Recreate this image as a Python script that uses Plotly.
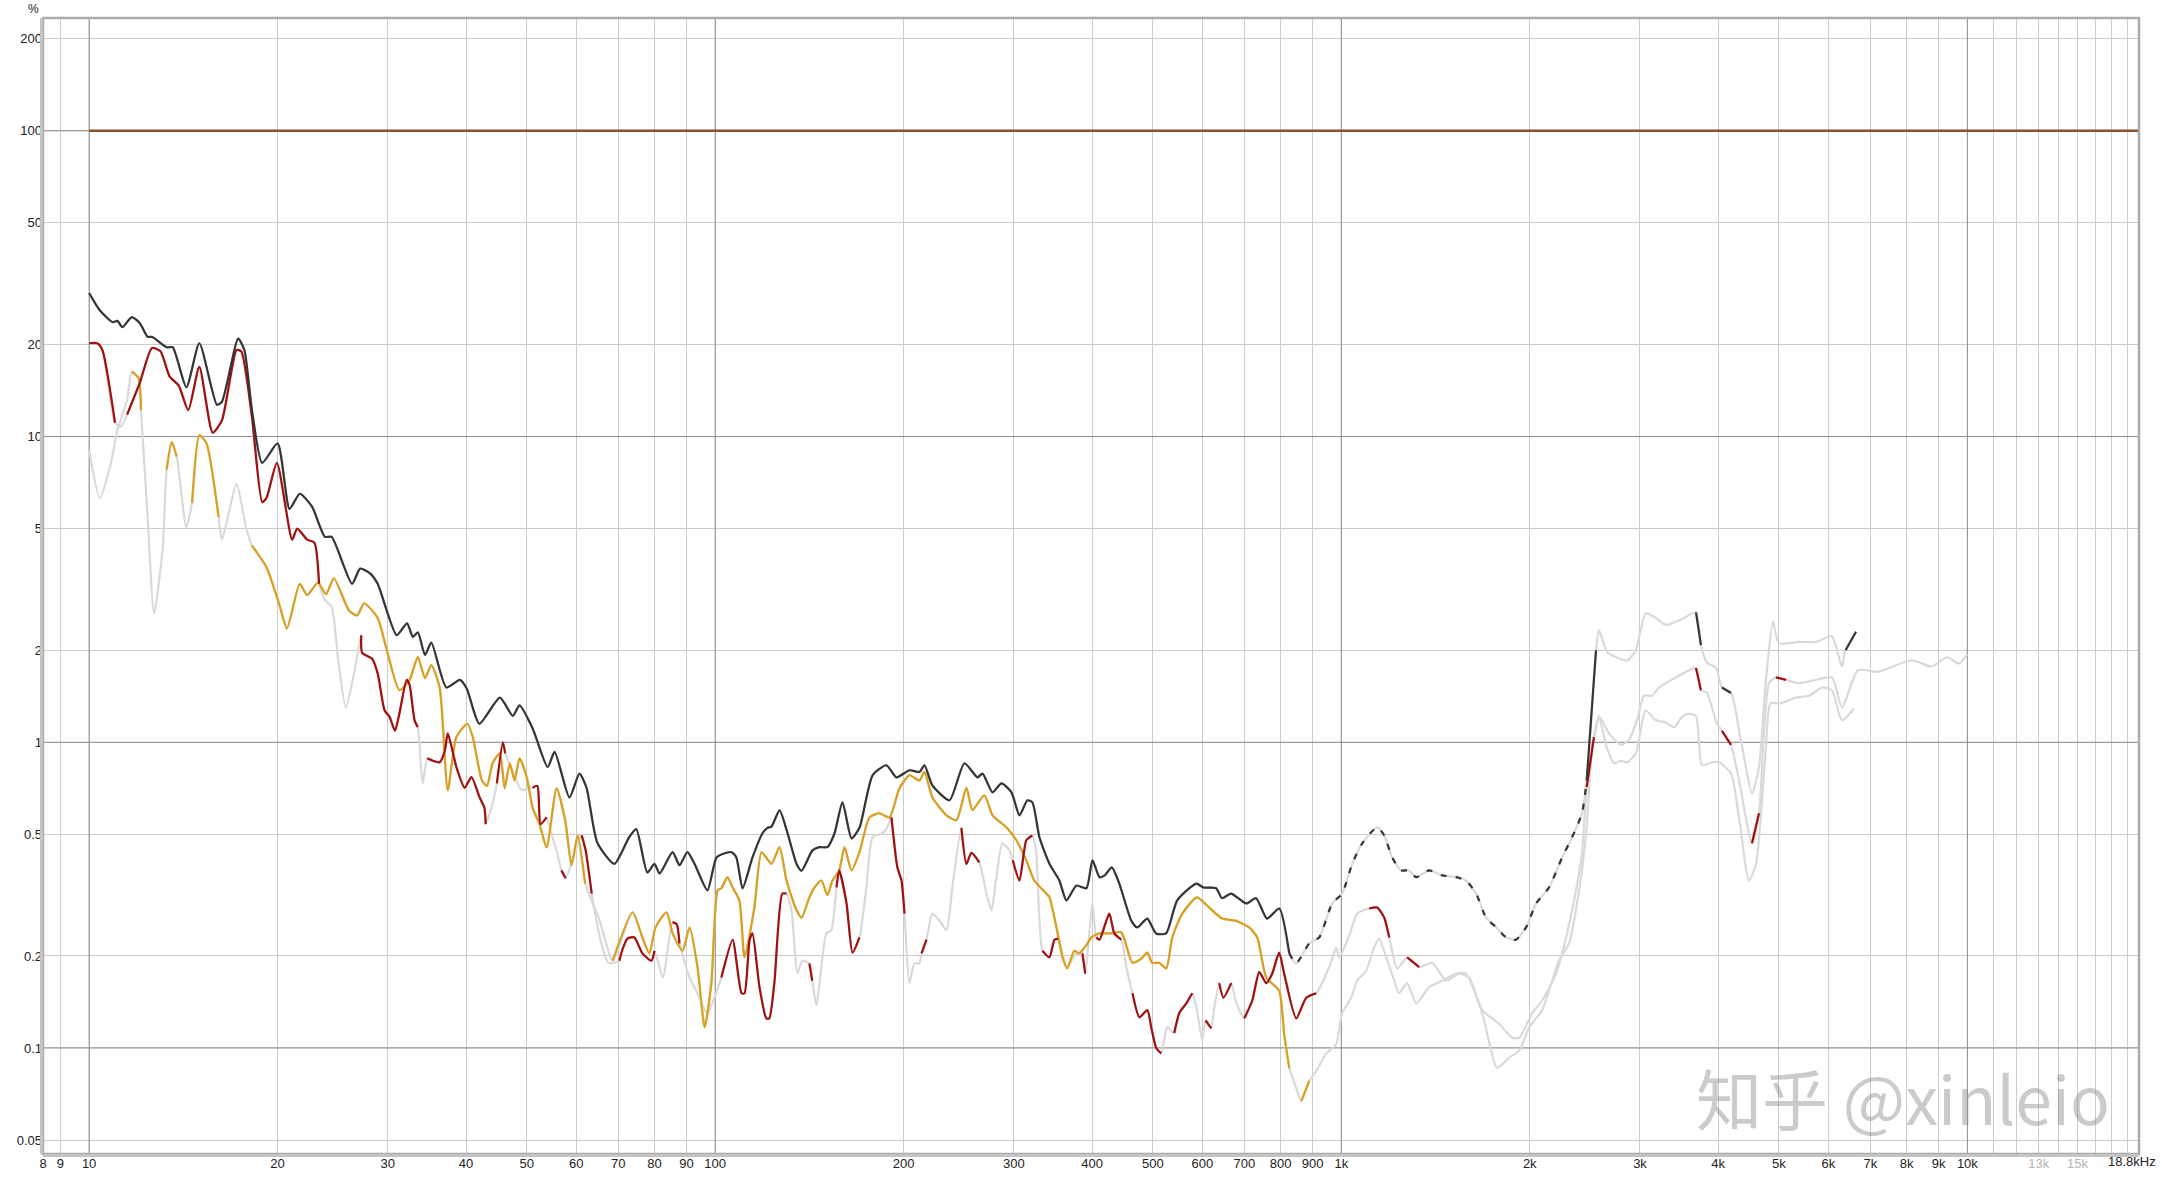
import math
import plotly.graph_objects as go

# ---------------- data (frequency in Hz, distortion in %) ----------------
THD_FREQ = [10.0, 10.4, 10.9, 11.1, 11.3, 11.7, 12.05, 12.4, 12.6, 13.3, 13.6, 14.3, 15.0, 16.0, 16.3,
            17.3, 17.7, 18.2, 18.9, 20.0, 20.9, 21.7, 22.7, 23.8, 24.4, 26.3, 27.1, 28.1, 28.9, 31.0,
            32.2, 32.9, 33.5, 34.4, 35.2, 37.2, 39.1, 40.1, 42.0, 45.3, 47.5, 48.7, 51.1, 54.0, 55.4,
            58.5, 60.7, 62.3, 64.8, 69.0, 72.9, 74.8, 77.9, 80.0, 81.5, 85.5, 87.7, 90.3, 92.7, 97.2,
            100.5, 104.2, 106.2, 108.1, 110.6, 114.7, 119.0, 121.2, 123.0, 126.7, 130.5, 134.9, 137.4,
            143.0, 146.7, 151.1, 155.1, 159.7, 165.1, 170.0, 178.4, 187.7, 194.8, 204.3, 212.0, 215.9,
            222.3, 236.7, 250.1, 262.4, 267.3, 277.3, 286.6, 297.3, 306.2, 315.3, 321.1, 329.5, 342,
            354.6, 363.9, 377.6, 391.7, 400.5, 411, 419, 430, 442, 462, 472, 490, 506, 525, 547, 587,
            602, 631, 645, 667, 705, 731, 761, 796, 826, 847, 889, 922, 967, 1003, 1041, 1080, 1141,
            1171, 1206, 1246, 1283, 1317, 1381, 1449, 1526, 1582, 1642, 1703, 1768, 1834, 1902, 1973,
            2047, 2147, 2253, 2337, 2424, 2466, 2552, 2580, 2658, 2748, 2861, 2955, 3063, 3182, 3301,
            3502, 3686, 3754, 3838, 3967, 4055, 4193, 4347, 4529, 4647, 4768, 4893, 5000, 5383, 5730,
            6077, 6305, 6390, 6640]
THD_PCT = [29.5, 25.9, 23.7, 23.9, 22.8, 24.6, 23.5, 21.2, 21.2, 19.6, 19.6, 14.5, 20.2, 12.7, 13.0,
           20.9, 19.2, 12.2, 8.2, 9.5, 5.8, 6.5, 5.9, 4.7, 4.7, 3.3, 3.7, 3.57, 3.3, 2.24,
           2.45, 2.21, 2.29, 1.93, 2.12, 1.51, 1.60, 1.50, 1.15, 1.40, 1.22, 1.32, 1.11, 0.83, 0.93,
           0.66, 0.79, 0.71, 0.47, 0.40, 0.49, 0.52, 0.375, 0.40, 0.372, 0.437, 0.396, 0.437, 0.40, 0.328,
           0.42, 0.435, 0.437, 0.42, 0.333, 0.42, 0.504, 0.525, 0.53, 0.599, 0.504, 0.40, 0.38,
           0.443, 0.454, 0.454, 0.504, 0.636, 0.485, 0.525, 0.78, 0.841, 0.768, 0.81, 0.80, 0.841,
           0.723, 0.646, 0.854, 0.768, 0.79, 0.686, 0.734, 0.686, 0.577, 0.646, 0.636, 0.489, 0.40,
           0.353, 0.304, 0.34, 0.333, 0.411, 0.362, 0.367, 0.39, 0.345, 0.261, 0.248, 0.265, 0.237, 0.237, 0.304, 0.345,
           0.335, 0.333, 0.309, 0.32, 0.297, 0.309, 0.265, 0.286, 0.204, 0.189, 0.22, 0.23, 0.297, 0.32, 0.40, 0.467, 0.527,
           0.496, 0.42, 0.381, 0.381, 0.362, 0.381, 0.367, 0.362, 0.353, 0.32, 0.267, 0.248, 0.23, 0.226, 0.248,
           0.297, 0.335, 0.42, 0.489, 0.586, 0.75, 2.0, 2.33, 1.97, 1.9, 1.85, 2.0, 2.64, 2.55, 2.42,
           2.53, 2.66, 2.08, 1.82, 1.75, 1.51, 1.45, 1.02, 0.68, 0.83, 1.6, 2.48, 2.11, 2.13, 2.13,
           2.22, 1.77, 2.0, 2.3]

H2_FREQ = [10.0, 10.3, 10.5, 11.0, 11.25, 11.5, 12.05, 12.6, 13.0, 13.45, 13.9, 14.4, 15.0, 15.75, 16.3,
           17.2, 17.5, 18.2, 18.9, 19.2, 19.95, 21.1, 21.5, 22.3, 22.9, 23.3, 23.8, 24.4, 25.0, 25.7,
           26.5, 27.2, 27.3, 28.3, 28.9, 29.65, 30.2, 30.8, 31.3, 32.15, 32.5, 33.1, 33.5, 34.1, 34.7,
           35.4, 36.3, 37.0, 37.4, 38.6, 39.8, 40.8, 42.05, 42.8, 43.0, 44.0, 44.8, 45.8, 46.2, 47.5,
           49.0, 51.1, 52.0, 52.6, 53.8, 54.7, 55.8, 56.8, 57.7, 60.3, 61.2, 62.1, 63.5, 64.5, 65.8,
           67.5, 70.3, 71.0, 72.4, 74.3, 75.7, 76.5, 79.1, 80.0, 82.5, 85.5, 86.8, 87.7, 91.0, 93.7,
           97.0, 102.3, 102.8, 106.6, 110.2, 111.4, 113.5, 114.7, 117.7, 120.7, 122, 124.3, 128, 130,
           132.4, 135.3, 137.8, 141.4, 142.9, 145.1, 150.5, 153.3, 156.2, 157.8, 162.1, 165.7, 170,
           174.4, 178.4, 185, 188.4, 191.2, 195.4, 198.4, 200.6, 204.3, 208.1, 212, 213.6, 217.5, 222.3,
           228.1, 234.1, 239.2, 247.3, 251.9, 256.6, 264.2, 271.2, 276.3, 281.3, 287.5, 295, 298.7,
           306.2, 314, 321.1, 325.5, 333.2, 341.9, 348.2, 353, 358.7, 365.1, 377.6, 385.9, 390, 400.5,
           406.2, 411, 426, 434, 445.3, 453.6, 464, 476, 490, 497.1, 506.3, 515.7, 527.2, 541, 551.1,
           565.5, 578.1, 588, 599.7, 607.2, 619.9, 626, 638.3, 648.2, 667.2, 677.8, 699.8, 720.9,
           739.6, 758.8, 775.6, 795.7, 810.6, 847.3, 879.1, 912, 956.6, 981.5, 993, 1029.5, 1060,
           1108, 1141, 1171, 1193, 1228, 1274, 1332, 1397, 1471, 1542, 1600, 1679, 1787, 1874, 1924,
           2018, 2094, 2203, 2286, 2371, 2424, 2466, 2533, 2580, 2677, 2797, 2881, 2967, 3045, 3136,
           3217, 3424, 3686, 3754, 3838, 3982, 4055, 4193, 4318, 4529, 4647, 4821, 4947, 5133, 5383,
           5730, 6077, 6305, 6687, 7194, 7494, 8154, 8776, 9276, 9692, 10000]
H2_PCT = [20.2, 20.2, 19.2, 11.1, 10.8, 11.8, 15.0, 19.5, 19.0, 15.7, 14.7, 12.2, 16.9, 10.3, 11.3,
          19.2, 19.0, 11.6, 6.1, 6.3, 8.2, 4.6, 5.0, 4.6, 4.5, 3.3, 2.92, 2.77, 1.85, 1.3,
          1.68, 2.24, 1.96, 1.88, 1.68, 1.27, 1.21, 1.09, 1.24, 1.60, 1.54, 1.18, 1.12, 0.734, 0.886,
          0.87, 0.86, 0.94, 1.07, 0.83, 0.71, 0.77, 0.66, 0.61, 0.54, 0.62, 0.734, 1.0, 0.92, 0.80,
          0.70, 0.71, 0.72, 0.54, 0.568, 0.504, 0.443, 0.381, 0.359, 0.467, 0.496, 0.443, 0.32, 0.267, 0.22,
          0.19, 0.193, 0.208, 0.228, 0.23, 0.213, 0.204, 0.193, 0.208, 0.17, 0.258, 0.254, 0.22, 0.17, 0.151,
          0.13, 0.170, 0.177, 0.226, 0.151, 0.151, 0.226, 0.237, 0.158, 0.125, 0.125, 0.163, 0.32, 0.32,
          0.282, 0.175, 0.193, 0.189, 0.166, 0.138, 0.237, 0.243, 0.335, 0.381, 0.297, 0.205, 0.23,
          0.335, 0.489, 0.504, 0.527, 0.568, 0.39, 0.353, 0.275, 0.163, 0.189, 0.189, 0.204, 0.226, 0.275,
          0.261, 0.243, 0.335, 0.525, 0.40, 0.435, 0.405, 0.32, 0.282, 0.362, 0.467, 0.443, 0.411,
          0.353, 0.478, 0.496, 0.443, 0.208, 0.198, 0.226, 0.228, 0.204, 0.184, 0.204, 0.204, 0.175, 0.297,
          0.23, 0.226, 0.275, 0.237, 0.226, 0.184, 0.151, 0.126, 0.133, 0.117, 0.100, 0.096, 0.117, 0.112, 0.13,
          0.14, 0.151, 0.133, 0.106, 0.123, 0.116, 0.133, 0.163, 0.146, 0.163, 0.143, 0.125, 0.143,
          0.177, 0.163, 0.175, 0.205, 0.175, 0.125, 0.146, 0.151, 0.184, 0.213, 0.198, 0.233, 0.275,
          0.286, 0.288, 0.267, 0.23, 0.182, 0.198, 0.184, 0.19, 0.166, 0.175, 0.17, 0.133, 0.12, 0.108, 0.108,
          0.13, 0.143, 0.175, 0.23, 0.328, 0.433, 0.713, 1.04, 1.22, 1.07, 0.98, 1.02, 1.18, 1.42, 1.42,
          1.51, 1.63, 1.75, 1.48, 1.45, 1.15, 1.09, 0.98, 0.75, 0.467, 0.586, 1.56, 1.63, 1.6, 1.56,
          1.6, 1.63, 1.3, 1.72, 1.70, 1.75, 1.855, 1.77, 1.897, 1.81, 1.94]

H3_FREQ = [10.0, 10.4, 10.8, 11.1, 11.5, 11.7, 12.0, 12.1, 12.4, 12.7, 13.1, 13.3, 13.55, 13.8, 14.3,
           14.6, 15.0, 15.4, 16.1, 16.3, 17.2, 17.8, 18.2, 19.2, 20.1, 20.7, 21.7, 22.3, 23.2, 23.9,
           24.6, 26.0, 26.8, 27.5, 28.9, 29.8, 31.3, 32.5, 33.5, 34.4, 35.2, 36.3, 37.4, 38.6, 40.2,
           41.0, 42.4, 43.2, 44.1, 45.3, 46.1, 47.0, 47.8, 48.7, 50.0, 51.1, 52.4, 53.8, 55.8, 57.6,
           58.96, 60.3, 62.0, 65.4, 68.6, 73.8, 76.5, 78.5, 80.3, 83.6, 85.5, 88.7, 91, 93.7, 96.2,
           98.6, 100.9, 102.3, 104.6, 106.6, 109.3, 111.4, 115.5, 118.6, 123, 126.7, 130, 134.9, 137.4,
           141.4, 144.1, 147.8, 151.1, 153.9, 157.8, 160.9, 165.1, 170, 176.4, 183, 189.8, 196.9, 204.3,
           212, 215.9, 222.3, 234.1, 242.8, 251.9, 257.5, 269.1, 277.3, 291.7, 302.7, 314, 323.4, 338,
           341.9, 350.8, 358.7, 365.1, 374.6, 381.2, 391.7, 398.8, 411, 421.3, 429.7, 445.3, 464, 479.2,
           490, 498.9, 512, 525.4, 537.1, 557.2, 588, 615.3, 645.3, 677.8, 712.8, 734.2, 758.8, 795.7,
           810.6, 826, 847.3, 863, 889, 912, 946, 981.5, 1003, 1037, 1060, 1096, 1128, 1149, 1180, 1215,
           1237, 1274, 1317, 1381, 1449, 1526, 1582, 1679, 1774, 1854, 1924, 1996, 2094, 2227, 2311,
           2398, 2461, 2517, 2580, 2658, 2727, 2797, 2861, 2955, 3063, 3182, 3301, 3400, 3502, 3592,
           3686, 3769, 3911, 4013, 4193, 4318, 4479, 4597, 4768, 4846, 5028, 5325, 5585, 5858, 6077,
           6305, 6590]
H3_PCT = [9.0, 6.3, 7.95, 10.5, 13.2, 16.3, 15.5, 12.2, 5.45, 2.64, 4.25, 7.8, 9.6, 8.6, 5.06,
          6.06, 10.1, 9.5, 5.45, 4.6, 7.0, 5.06, 4.4, 3.74, 2.85, 2.36, 3.3, 3.03, 3.33, 3.05,
          3.44, 2.7, 2.6, 2.85, 2.55, 2.05, 1.48, 1.60, 1.9, 1.62, 1.79, 1.51, 0.697, 1.04, 1.15,
          1.04, 0.75, 0.72, 0.854, 0.92, 0.707, 0.854, 0.75, 0.886, 0.768, 0.61, 0.54, 0.453, 0.707, 0.556,
          0.396, 0.496, 0.345, 0.261, 0.193, 0.278, 0.23, 0.204, 0.248, 0.278, 0.237, 0.208, 0.248, 0.184, 0.117,
          0.163, 0.328, 0.333, 0.362, 0.335, 0.304, 0.198, 0.288, 0.437, 0.40, 0.454, 0.353, 0.282, 0.267,
          0.311, 0.335, 0.353, 0.316, 0.353, 0.381, 0.454, 0.381, 0.437, 0.568, 0.586, 0.568, 0.707, 0.78,
          0.75, 0.80, 0.66, 0.577, 0.556, 0.71, 0.60, 0.671, 0.577, 0.527, 0.478, 0.411, 0.353, 0.32,
          0.311, 0.248, 0.198, 0.182, 0.208, 0.204, 0.217, 0.23, 0.237, 0.237, 0.237, 0.239, 0.19, 0.196,
          0.205, 0.19, 0.19, 0.182, 0.23, 0.275, 0.311, 0.288, 0.265, 0.261, 0.248, 0.23, 0.17, 0.154,
          0.111, 0.086, 0.074, 0.067, 0.078, 0.084, 0.096, 0.103, 0.13, 0.146, 0.166, 0.179, 0.213, 0.228, 0.198, 0.166,
          0.151, 0.163, 0.14, 0.158, 0.166, 0.175, 0.175, 0.13, 0.086, 0.093, 0.098, 0.117, 0.133, 0.193, 0.22,
          0.328, 0.504, 0.963, 1.2, 0.955, 0.854, 0.87, 0.86, 0.92, 1.27, 1.18, 1.16, 1.12, 1.21, 1.24,
          1.22, 0.84, 0.86, 0.86, 0.79, 0.568, 0.353, 0.40, 0.963, 1.34, 1.34, 1.40, 1.42, 1.51, 1.48,
          1.18, 1.29]

# frequency ranges in which each curve is drawn in its own colour (elsewhere grey)
THD_SOLID = [(10, 826), (2466, 2552), (3686, 3754), (4055, 4193), (6390, 6640)]
THD_DASHED = [(826, 2466)]
H2_SOLID = [(10, 11.0), (11.5, 23.3), (27.2, 33.5), (34.7, 43.0), (44.8, 46.2), (51.1, 53.8),
            (56.8, 57.7), (61.2, 63.5), (70.3, 76.5), (79.1, 80.0), (85.5, 87.7), (102.3, 102.8),
            (106.6, 130), (141.4, 142.9), (156.2, 170), (191.2, 200.6), (213.6, 217.5), (247.3, 264.2),
            (298.7, 306.2), (314, 321.1), (333.2, 341.9), (348.2, 353), (385.9, 390), (406.2, 411),
            (426, 445.3), (464, 476), (490, 497.1), (506.3, 515.7), (541, 551.1), (565.5, 578.1),
            (607.2, 619.9), (638.3, 667.2), (699.8, 720.9), (739.6, 758.8), (775.6, 795.7), (810.6, 847.3),
            (879.1, 912), (1108, 1141), (1171, 1193), (1274, 1332), (2466, 2533), (3686, 3754),
            (4055, 4193), (4529, 4647), (4947, 5133)]
H3_SOLID = [(11.7, 12.1), (13.3, 13.8), (14.6, 16.1), (18.2, 62.0), (68.6, 826), (863, 889)]

HUNDRED_PCT = 100
X_RANGE = (8.44, 18800)
Y_RANGE = (0.045, 234)

X_TICKS = [8.44, 9, 10, 20, 30, 40, 50, 60, 70, 80, 90, 100, 200, 300, 400, 500, 600, 700, 800, 900,
           1000, 2000, 3000, 4000, 5000, 6000, 7000, 8000, 9000, 10000, 11000, 12000, 13000, 14000,
           15000, 16000, 17000, 18000]
X_TICK_TEXT = ["8", "9", "10", "20", "30", "40", "50", "60", "70", "80", "90", "100", "200", "300",
               "400", "500", "600", "700", "800", "900", "1k", "2k", "3k", "4k", "5k", "6k", "7k", "8k",
               "9k", "10k", "", "", "<span style='color:#b4b4b4'>13k</span>", "",
               "<span style='color:#b4b4b4'>15k</span>", "", "", ""]
X_END_LABEL = "18.8kHz"
Y_TICKS = [0.05, 0.1, 0.2, 0.5, 1, 2, 5, 10, 20, 50, 100, 200]
Y_TICK_TEXT = ["0.05", "0.1", "0.2", "0.5", "1", "2", "5", "10", "20", "50", "100", "200"]
X_DECADES = [10, 100, 1000, 10000]
Y_DECADES = [0.1, 1, 10, 100]

# ---------------- styling ----------------
GREY = "#d9d9d9"
C_THD = "#353535"
C_H2 = "#a30e0e"
C_H3 = "#dba01f"
C_100 = "#86532a"
GRID = "#cbcbcb"
GRID_DARK = "#8f8f8f"
LW = 2.2


def masked(freqs, vals, ranges):
    return [v if any(lo <= f <= hi for lo, hi in ranges) else None for f, v in zip(freqs, vals)]


fig = go.Figure()

# darker decade grid lines
for xv in X_DECADES:
    fig.add_trace(go.Scatter(x=[xv, xv], y=list(Y_RANGE), mode="lines",
                             line=dict(color=GRID_DARK, width=1), hoverinfo="skip"))
for yv in Y_DECADES:
    fig.add_trace(go.Scatter(x=list(X_RANGE), y=[yv, yv], mode="lines",
                             line=dict(color=GRID_DARK, width=1), hoverinfo="skip"))

# grey (full) curves
for fr, pc in ((H3_FREQ, H3_PCT), (H2_FREQ, H2_PCT), (THD_FREQ, THD_PCT)):
    fig.add_trace(go.Scatter(x=fr, y=pc, mode="lines",
                             line=dict(color=GREY, width=LW, shape="spline", smoothing=0.6),
                             hoverinfo="skip"))

# coloured parts
fig.add_trace(go.Scatter(x=H3_FREQ, y=masked(H3_FREQ, H3_PCT, H3_SOLID), mode="lines",
                         line=dict(color=C_H3, width=LW, shape="spline", smoothing=0.6),
                         connectgaps=False, name="H3"))
fig.add_trace(go.Scatter(x=H2_FREQ, y=masked(H2_FREQ, H2_PCT, H2_SOLID), mode="lines",
                         line=dict(color=C_H2, width=LW, shape="spline", smoothing=0.6),
                         connectgaps=False, name="H2"))
fig.add_trace(go.Scatter(x=THD_FREQ, y=masked(THD_FREQ, THD_PCT, THD_DASHED), mode="lines",
                         line=dict(color=C_THD, width=LW, shape="spline", smoothing=0.6, dash="6px,9px"),
                         connectgaps=False, name="THD dashed"))
fig.add_trace(go.Scatter(x=THD_FREQ, y=masked(THD_FREQ, THD_PCT, THD_SOLID), mode="lines",
                         line=dict(color=C_THD, width=LW, shape="spline", smoothing=0.6),
                         connectgaps=False, name="THD"))

# 100 % reference line
fig.add_trace(go.Scatter(x=[10, X_RANGE[1]], y=[HUNDRED_PCT, HUNDRED_PCT], mode="lines",
                         line=dict(color=C_100, width=2.5), hoverinfo="skip"))

W, H = 2162, 1180
ML, MR, MT, MB = 43, 23, 18, 26
pw, ph = W - ML - MR, H - MT - MB

fig.update_layout(
    width=W, height=H, autosize=False,
    margin=dict(l=ML, r=MR, t=MT, b=MB, pad=0),
    paper_bgcolor="white", plot_bgcolor="white",
    showlegend=False, hovermode=False,
    font=dict(family="Liberation Sans, Arial, sans-serif", size=13, color="#222"),
    xaxis=dict(type="log", range=[math.log10(X_RANGE[0]), math.log10(X_RANGE[1])],
               tickmode="array", tickvals=X_TICKS, ticktext=X_TICK_TEXT,
               showgrid=True, gridcolor=GRID, gridwidth=1, zeroline=False, showline=False,
               ticks="", ticklen=0, automargin=False,
               tickfont=dict(family="Liberation Sans, Arial", size=13, color="#222")),
    yaxis=dict(type="log", range=[math.log10(Y_RANGE[0]), math.log10(Y_RANGE[1])],
               tickmode="array", tickvals=Y_TICKS, ticktext=Y_TICK_TEXT,
               showgrid=True, gridcolor=GRID, gridwidth=1, zeroline=False, showline=False,
               ticks="", ticklen=0, automargin=False,
               tickfont=dict(family="Liberation Sans, Arial", size=13, color="#222")),
    shapes=[
        dict(type="rect", xref="paper", yref="paper", x0=0, x1=1, y0=0, y1=1,
             line=dict(color="#ababab", width=2.5), layer="above"),
        dict(type="line", xref="paper", yref="paper", x0=-1.5 / pw, x1=-1.5 / pw, y0=0, y1=1,
             line=dict(color="#c4c4c4", width=3), layer="above"),
        dict(type="line", xref="paper", yref="paper", x0=0, x1=1, y0=-1.5 / ph, y1=-1.5 / ph,
             line=dict(color="#c4c4c4", width=3), layer="above"),
    ],
    annotations=[
        dict(text="%", xref="paper", yref="paper", x=(33 - ML) / pw, y=(H - MB - 9) / ph,
             showarrow=False, xanchor="center", yanchor="middle",
             font=dict(family="Liberation Sans, Arial", size=12, color="#222")),
        dict(text=X_END_LABEL, xref="paper", yref="paper", x=(2158 - ML) / pw, y=(H - MB - 1161) / ph,
             showarrow=False, xanchor="right", yanchor="middle",
             font=dict(family="Liberation Sans, Arial", size=13, color="#222")),
        dict(text="知乎 @xinleio", xref="paper", yref="paper", x=(1903 - ML) / pw, y=(H - MB - 1096) / ph,
             showarrow=False, xanchor="center", yanchor="middle",
             font=dict(family="Noto Sans CJK SC, Noto Sans", size=66, color="rgba(140,140,140,0.45)")),
    ],
)

fig.write_html("out.html", config={"displayModeBar": False},
               post_script="document.body.style.margin='0';document.body.style.overflow='hidden';")
